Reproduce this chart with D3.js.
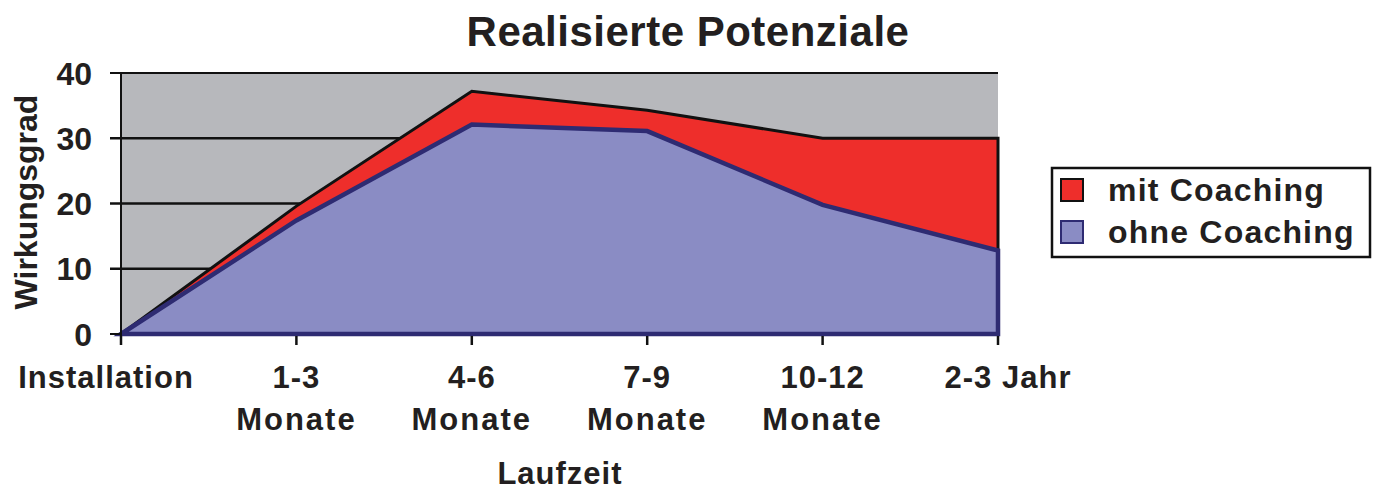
<!DOCTYPE html>
<html>
<head>
<meta charset="utf-8">
<title>Realisierte Potenziale</title>
<script src="https://cdn.jsdelivr.net/npm/d3@7"></script>
<style>
  body { margin: 0; background: #fff; }
  text { font-family: "Liberation Sans", Arial, Helvetica, sans-serif; font-weight: bold; fill: #231f20; }
</style>
</head>
<body>
<div id="chart"></div>
<script>
// categories on the x axis (two lines each)
var categories = ["Installation", "1-3", "4-6", "7-9", "10-12", "2-3 Jahr"];
var catLine2 = ["", "Monate", "Monate", "Monate", "Monate", ""];

// values
var mitCoaching = [0, 19.6, 37.2, 34.3, 30, 30];
var ohneCoaching = [0, 17.4, 32.1, 31.1, 19.8, 12.8];

var yTicks = [0, 10, 20, 30, 40];
var seriesNames = ["mit Coaching", "ohne Coaching"];

var W = 1382, H = 490;
var margin = {top: 73, left: 121, right: 384, bottom: 156};
var width = W - margin.left - margin.right;
var height = H - margin.top - margin.bottom;

var svg = d3.select("#chart").append("svg")
    .attr("width", W)
    .attr("height", H);

var g = svg.append("g")
    .attr("transform", "translate(" + margin.left + "," + margin.top + ")");

var x = d3.scalePoint().domain(d3.range(categories.length)).range([0, width]);
var y = d3.scaleLinear().domain([0, 40]).range([height, 0]);

// grey plot background
g.append("rect")
    .attr("x", 0).attr("y", 0)
    .attr("width", width).attr("height", height)
    .attr("fill", "#b7b8bc");

// gridlines (extend left as tick marks)
g.selectAll(".grid")
    .data(yTicks.filter(function(d) { return d > 0; }))
    .enter().append("line")
    .attr("x1", -11).attr("x2", width)
    .attr("y1", function(d) { return y(d); })
    .attr("y2", function(d) { return y(d); })
    .attr("stroke", "#111")
    .attr("stroke-width", function(d) { return d == 40 ? 2 : 2.5; });

// areas
var area = function(vals) {
    return d3.area()
        .x(function(d, i) { return x(i); })
        .y0(y(0))
        .y1(function(d) { return y(d); })(vals);
};

g.append("path")
    .attr("d", area(mitCoaching))
    .attr("fill", "#ee2e2b")
    .attr("stroke", "#111")
    .attr("stroke-width", 3)
    .attr("stroke-linejoin", "miter");

g.append("path")
    .attr("d", area(ohneCoaching))
    .attr("fill", "#8a8cc4")
    .attr("stroke", "#2e2b72")
    .attr("stroke-width", 4.5)
    .attr("stroke-linejoin", "miter");

// y axis line
g.append("line")
    .attr("x1", 0).attr("x2", 0)
    .attr("y1", 0).attr("y2", height + 11)
    .attr("stroke", "#111").attr("stroke-width", 2);

// bottom tick
g.append("line")
    .attr("x1", -11).attr("x2", 0)
    .attr("y1", height).attr("y2", height)
    .attr("stroke", "#111").attr("stroke-width", 2);

// x ticks
g.selectAll(".xtick")
    .data(categories)
    .enter().append("line")
    .attr("x1", function(d, i) { return x(i); })
    .attr("x2", function(d, i) { return x(i); })
    .attr("y1", height + 2).attr("y2", height + 11)
    .attr("stroke", "#111").attr("stroke-width", 2.5);

// y tick labels
g.selectAll(".ylab")
    .data(yTicks)
    .enter().append("text")
    .attr("x", -29)
    .attr("y", function(d) { return y(d); })
    .attr("dy", "0.36em")
    .attr("text-anchor", "end")
    .style("font-size", "32px")
    .text(function(d) { return d; });

// x tick labels
var xl = g.selectAll(".xlab")
    .data(categories)
    .enter().append("text")
    .attr("text-anchor", "middle")
    .style("font-size", "31px")
    .style("letter-spacing", "1px");
xl.append("tspan")
    .attr("x", function(d, i) { return x(i) - (i == 0 ? 15 : 0) + (i == 5 ? 10 : 0); })
    .attr("y", height + 54)
    .text(function(d) { return d; });
xl.append("tspan")
    .attr("x", function(d, i) { return x(i); })
    .attr("y", height + 96)
    .style("letter-spacing", "2px")
    .text(function(d, i) { return catLine2[i]; });

// axis titles
svg.append("text")
    .attr("x", 560).attr("y", 484)
    .attr("text-anchor", "middle")
    .style("font-size", "31px")
    .style("letter-spacing", "1px")
    .text("Laufzeit");

svg.append("text")
    .attr("transform", "translate(37,202) rotate(-90)")
    .attr("text-anchor", "middle")
    .style("font-size", "32px")
    .text("Wirkungsgrad");

svg.append("text")
    .attr("x", 688).attr("y", 46)
    .attr("text-anchor", "middle")
    .style("font-size", "42px")
    .style("letter-spacing", "0.5px")
    .text("Realisierte Potenziale");

// legend
var legend = svg.append("g").attr("transform", "translate(1052,168)");
legend.append("rect")
    .attr("width", 318).attr("height", 89)
    .attr("fill", "#fff").attr("stroke", "#111").attr("stroke-width", 2.5);
var legColors = [["#ee2e2b", "#111"], ["#8a8cc4", "#2e2b72"]];
seriesNames.forEach(function(name, i) {
    legend.append("rect")
        .attr("x", 9).attr("y", 11 + i * 42)
        .attr("width", 22).attr("height", 22)
        .attr("fill", legColors[i][0])
        .attr("stroke", legColors[i][1]).attr("stroke-width", 2);
    legend.append("text")
        .attr("x", 56).attr("y", 33 + i * 42)
        .style("font-size", "32px")
        .style("letter-spacing", "1.2px")
        .text(name);
});
</script>
</body>
</html>
